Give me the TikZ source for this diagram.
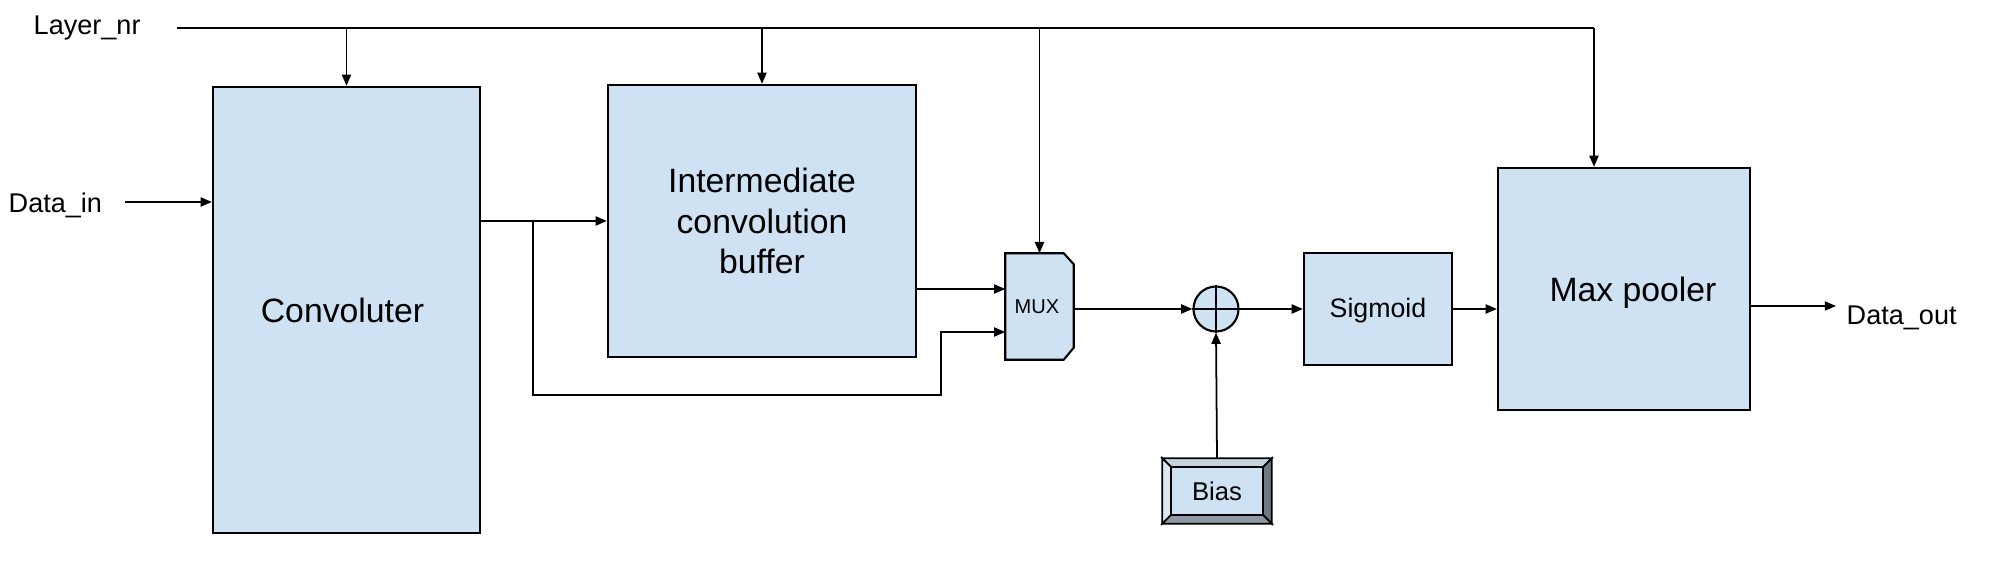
\documentclass[tikz,border=0pt]{standalone}
\usepackage{fontspec}
\setmainfont{Liberation Sans}
\usetikzlibrary{arrows.meta,backgrounds}
\definecolor{boxblue}{HTML}{CFE2F3}
\definecolor{bevtop}{HTML}{C5D3E0}
\definecolor{bevleft}{HTML}{DCE7F1}
\definecolor{bevright}{HTML}{6E7983}
\definecolor{bevbot}{HTML}{8D98A2}
\begin{document}
\begin{tikzpicture}[x=0.01cm,y=-0.01cm,
  blk/.style={draw=black,line width=0.6pt,fill=boxblue,inner sep=0pt,align=center},
  conn/.style={line width=0.5pt,-{Triangle[length=3.2pt,width=2.6pt]}},
  wire/.style={line width=0.5pt},
  lbl/.style={font=\fontsize{7.7}{9}\selectfont,inner sep=0pt},
  big/.style={font=\fontsize{9.6}{11.4}\selectfont}]
\useasboundingbox (0,0) rectangle (2000,571);

% labels
\node[lbl,anchor=base west] (layernr) at (33,35) {Layer\_nr};
\node[lbl,anchor=base west] (datain) at (8,213) {Data\_in};
\node[lbl,anchor=base west] (dataout) at (1846,325) {Data\_out};

% blocks
\node[blk,big,minimum width=2.67cm,minimum height=4.46cm] (conv) at (346.5,310) {Convoluter\hspace*{0.08cm}};
\node[blk,big,minimum width=3.08cm,minimum height=2.72cm] (buf) at (762,221) {Intermediate\\convolution\\buffer};
\node[inner sep=0pt,minimum width=0.67cm,minimum height=1.05cm,font=\fontsize{5.7}{7}\selectfont] (mux) at (1039.5,306.5) {MUX\hspace*{0.05cm}};
\node[draw=black,line width=0.6pt,fill=boxblue,circle,minimum size=0.45cm,inner sep=0pt] (add) at (1216,309) {};
\node[blk,font=\fontsize{7.6}{9}\selectfont,minimum width=1.48cm,minimum height=1.12cm] (sig) at (1378,309) {\raisebox{-2.3pt}[0pt][0pt]{Sigmoid}};
\node[blk,big,minimum width=2.52cm,minimum height=2.42cm] (maxp) at (1624,289) {\hspace*{0.18cm}\raisebox{-3.7pt}[0pt][0pt]{Max pooler}};
\node[inner sep=0pt,minimum width=1.08cm,minimum height=0.64cm,font=\fontsize{7.3}{9}\selectfont] (bias) at (1217,491) {Bias};

\begin{scope}[on background layer]
  % MUX shape
  \draw[line width=0.6pt,fill=boxblue] (mux.north west) -- ([xshift=-0.1cm]mux.north east)
    -- ([yshift=-0.11cm]mux.north east) -- ([yshift=0.12cm]mux.south east)
    -- ([xshift=-0.1cm]mux.south east) -- (mux.south west) -- cycle;
  % Bias bevel
  \coordinate (bi1) at ([shift={(0.09cm,-0.09cm)}]bias.north west);
  \coordinate (bi2) at ([shift={(-0.09cm,-0.09cm)}]bias.north east);
  \coordinate (bi3) at ([shift={(-0.09cm,0.09cm)}]bias.south east);
  \coordinate (bi4) at ([shift={(0.09cm,0.09cm)}]bias.south west);
  \draw[line width=0.5pt,fill=bevtop] (bias.north west) -- (bias.north east) -- (bi2) -- (bi1) -- cycle;
  \draw[line width=0.5pt,fill=bevleft] (bias.north west) -- (bi1) -- (bi4) -- (bias.south west) -- cycle;
  \draw[line width=0.5pt,fill=bevright] (bias.north east) -- (bias.south east) -- (bi3) -- (bi2) -- cycle;
  \draw[line width=0.5pt,fill=bevbot] (bias.south west) -- (bias.south east) -- (bi3) -- (bi4) -- cycle;
  \draw[line width=0.5pt,fill=boxblue] (bi1) rectangle (bi3);
\end{scope}

% adder cross
\draw[line width=0.6pt] (add.north) -- (add.south);
\draw[line width=0.6pt] (add.west) -- (add.east);

% Layer_nr bus
\coordinate (lnstart) at (177,28);
\coordinate (t1) at (346.5,28);
\coordinate (t2) at (762,28);
\coordinate (t3) at (1039.5,28);
\coordinate (t4) at (1594,28);
\draw[wire] (lnstart) -- (t4);
\draw[conn] (t1) -- (conv.north);
\draw[conn] (t2) -- (buf.north);
\draw[conn] (t3) -- (mux.north);
\draw[conn] (t4) -- (maxp.north -| t4);

% Data_in
\coordinate (dinstart) at (125,202);
\draw[conn] (dinstart) -- (dinstart -| conv.west);

% conv -> buffer
\draw[conn] (conv.east |- buf.west) -- (buf.west);
% bypass
\coordinate (br) at (533,221);
\coordinate (bpbot) at (941,395);
\coordinate (in1) at (0,289);
\coordinate (in2) at (941,332);
\draw[conn] (br) |- (bpbot) -- (in2) -- (in2 -| mux.west);
% buffer -> mux
\draw[conn] (buf.east |- in1) -- (mux.west |- in1);
% mux -> adder
\draw[conn] (mux.east |- add.west) -- (add.west);
% adder -> sigmoid
\draw[conn] (add.east) -- (sig.west);
% sigmoid -> maxp
\draw[conn] (sig.east) -- (sig.east -| maxp.west);
% maxp -> out
\coordinate (outy) at (0,306);
\coordinate (outend) at (1836,306);
\draw[conn] (maxp.east |- outy) -- (outend);
% bias -> adder
\draw[conn] (bias.north) -- (add.south);
\end{tikzpicture}
\end{document}
